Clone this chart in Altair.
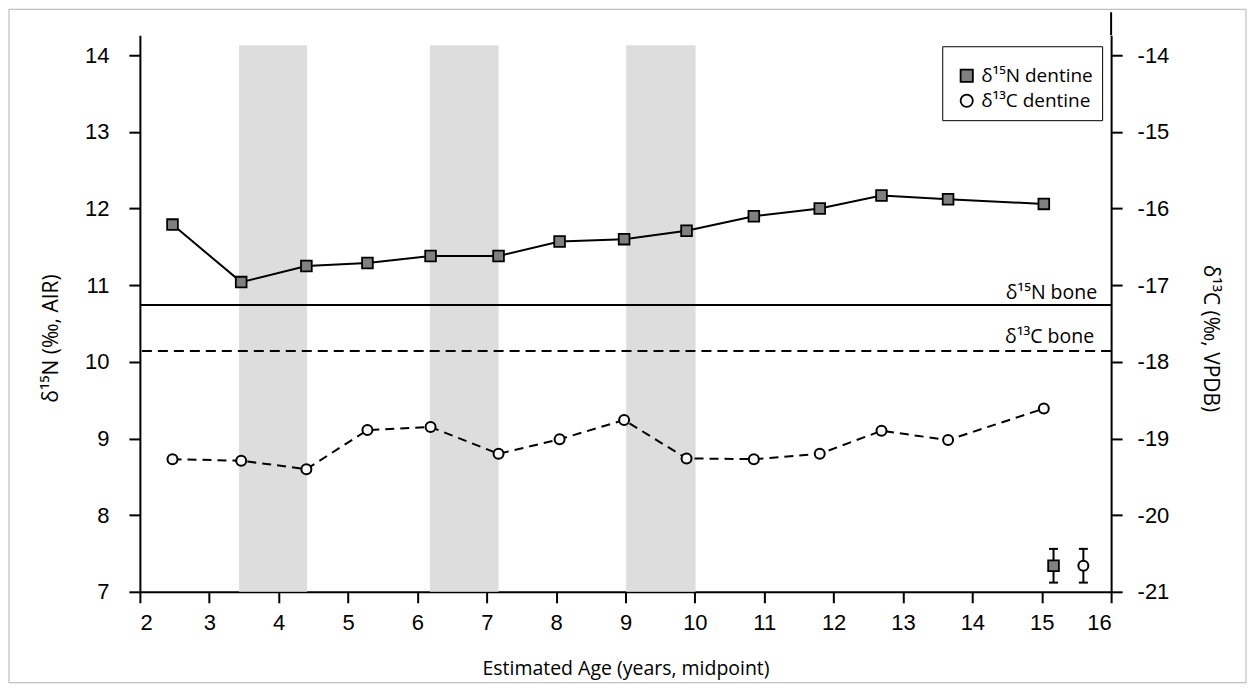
import altair as alt
import pandas as pd

# ---- data ----
ages = [2.47, 3.46, 4.40, 5.28, 6.19, 7.17, 8.05, 8.98, 9.88, 10.85, 11.80, 12.69, 13.65, 15.03]
n_dentine = [11.79, 11.04, 11.25, 11.29, 11.38, 11.38, 11.57, 11.60, 11.71, 11.90, 12.00, 12.17, 12.12, 12.06]
c_dentine = [-19.27, -19.29, -19.40, -18.89, -18.85, -19.20, -19.01, -18.76, -19.26, -19.27, -19.20, -18.90, -19.02, -18.61]
series_names = ["δ¹⁵N dentine", "δ¹³C dentine"]

band_start = [3.43, 6.18, 9.01]
band_end = [4.41, 7.17, 10.01]
band_top = 14.13

n_bone = 10.74
c_bone = -17.86
bone_labels = ["δ¹⁵N bone", "δ¹³C bone"]

err_x = [15.17, 15.60]
err_y = [7.34, -20.66]
err_sd = [0.22, 0.22]

x_ticks = list(range(2, 17))
n_ticks = list(range(7, 15))
c_ticks = list(range(-21, -13))

W, H = 972, 557
LABEL_FONT = "Liberation Sans"
TEXT_FONT = "Open Sans"

X_SCALE = alt.Scale(domain=[2, 16], nice=False, zero=False)
YN = alt.Scale(domain=[7, 14.26], nice=False, zero=False)
YC = alt.Scale(domain=[-21, -13.74], nice=False, zero=False)

axis_common = dict(domainColor="black", domainWidth=2, tickColor="black", tickWidth=2,
                   tickSize=11, labelFont=LABEL_FONT, labelFontSize=22, labelColor="black",
                   grid=False, titleFont=TEXT_FONT, titleFontWeight="normal", titleColor="black")

x_axis = alt.Axis(values=x_ticks, title="Estimated Age (years, midpoint)", labelPadding=10,
                  titleY=77, titleBaseline="middle", titleFontSize=19.5, **axis_common)
yn_axis = alt.Axis(values=n_ticks, orient="left", title="δ¹⁵N (‰, AIR)", labelPadding=20,
                   titleX=-88, titleY=303, titleBaseline="middle", titleAngle=-90,
                   titleFontSize=21, **axis_common)
yc_axis = alt.Axis(values=c_ticks, orient="right", title="δ¹³C (‰, VPDB)", labelPadding=15,
                   titleX=98, titleY=303, titleBaseline="middle", titleAngle=90,
                   titleFontSize=21, **axis_common)

shape_scale = alt.Scale(domain=series_names, range=["square", "circle"])
fill_scale = alt.Scale(domain=series_names, range=["#808080", "#f7f7f7"])
stroke_scale = alt.Scale(domain=series_names, range=["black", "black"])
legend = alt.Legend(title="\u00a0", titleFontSize=9, titlePadding=2, orient="none",
                    legendX=803, legendY=11, strokeColor="black",
                    fillColor="white", padding=9, rowPadding=4, symbolSize=150, symbolOffset=6,
                    symbolStrokeColor="black", symbolStrokeWidth=1.8, labelFont=TEXT_FONT,
                    labelFontSize=19, labelColor="black", labelOffset=5)

n_df = pd.DataFrame({"age": ages, "N": n_dentine, "series": series_names[0]})
c_df = pd.DataFrame({"age": ages, "C": c_dentine, "series": series_names[1]})
band_df = pd.DataFrame({"start": band_start, "end": band_end, "bottom": 7, "top": band_top})
nb_df = pd.DataFrame({"N": [n_bone], "x": [16], "label": [bone_labels[0]]})
cb_df = pd.DataFrame({"C": [c_bone], "x": [16], "label": [bone_labels[1]]})
ne_df = pd.DataFrame({"x": [err_x[0]], "N": [err_y[0]],
                      "lo": [err_y[0] - err_sd[0]], "hi": [err_y[0] + err_sd[0]]})
ce_df = pd.DataFrame({"x": [err_x[1]], "C": [err_y[1]],
                      "lo": [err_y[1] - err_sd[1]], "hi": [err_y[1] + err_sd[1]]})

# x is shared: every layer carries the same axis definition so the merged axis stays on
xq = lambda f: alt.X(f, type="quantitative", scale=X_SCALE, axis=x_axis)
# y is independent per layer: only the two line layers draw an axis
yn = lambda f: alt.Y(f, type="quantitative", scale=YN, axis=None)
yc = lambda f: alt.Y(f, type="quantitative", scale=YC, axis=None)

one = alt.Data(values=[{"a": 1}])

frame = alt.Chart(one).mark_rect(filled=False, stroke="#b0b0b0", strokeWidth=1).encode(
    x=alt.value(-131), x2=alt.value(1107), y=alt.value(-26), y2=alt.value(648))

bands = alt.Chart(band_df).mark_rect(color="#dddddd").encode(
    x=xq("start"), x2="end:Q", y=yn("bottom"), y2="top:Q")

n_line = alt.Chart(n_df).mark_line(color="black", strokeWidth=2).encode(
    x=xq("age"), y=alt.Y("N:Q", scale=YN, axis=yn_axis))
n_pts = alt.Chart(n_df).mark_point(filled=True, strokeWidth=1.8, size=115, opacity=1).encode(
    x=xq("age"), y=yn("N"),
    shape=alt.Shape("series:N", scale=shape_scale, legend=legend),
    fill=alt.Fill("series:N", scale=fill_scale, legend=legend),
    stroke=alt.Stroke("series:N", scale=stroke_scale, legend=legend))
n_bone_rule = alt.Chart(nb_df).mark_rule(color="black", strokeWidth=2).encode(y=yn("N"))
n_bone_text = alt.Chart(nb_df).mark_text(align="right", baseline="bottom", dx=-14, dy=-2,
                                         font=TEXT_FONT, fontSize=19.5, color="black").encode(
    x=xq("x"), y=yn("N"), text="label:N")
n_err = alt.Chart(ne_df).mark_rule(color="black", strokeWidth=2).encode(x=xq("x"), y=yn("lo"), y2="hi:Q")
n_cap_lo = alt.Chart(ne_df).mark_point(shape="M-1,0H1", size=81, stroke="black", strokeWidth=2, opacity=1).encode(x=xq("x"), y=yn("lo"))
n_cap_hi = alt.Chart(ne_df).mark_point(shape="M-1,0H1", size=81, stroke="black", strokeWidth=2, opacity=1).encode(x=xq("x"), y=yn("hi"))
n_err_pt = alt.Chart(ne_df).mark_point(shape="square", filled=True, fill="#808080", stroke="black",
                                       strokeWidth=1.8, size=115, opacity=1).encode(x=xq("x"), y=yn("N"))

c_line = alt.Chart(c_df).mark_line(color="black", strokeWidth=2, strokeDash=[9, 6]).encode(
    x=xq("age"), y=alt.Y("C:Q", scale=YC, axis=yc_axis))
c_pts = alt.Chart(c_df).mark_point(filled=True, strokeWidth=2, size=100, opacity=1).encode(
    x=xq("age"), y=yc("C"),
    shape=alt.Shape("series:N", scale=shape_scale, legend=None),
    fill=alt.Fill("series:N", scale=fill_scale, legend=None),
    stroke=alt.Stroke("series:N", scale=stroke_scale, legend=None))
c_bone_rule = alt.Chart(cb_df).mark_rule(color="black", strokeWidth=2, strokeDash=[10, 6]).encode(y=yc("C"))
c_bone_text = alt.Chart(cb_df).mark_text(align="right", baseline="bottom", dx=-17, dy=-4,
                                         font=TEXT_FONT, fontSize=19.5, color="black").encode(
    x=xq("x"), y=yc("C"), text="label:N")
c_err = alt.Chart(ce_df).mark_rule(color="black", strokeWidth=2).encode(x=xq("x"), y=yc("lo"), y2="hi:Q")
c_cap_lo = alt.Chart(ce_df).mark_point(shape="M-1,0H1", size=81, stroke="black", strokeWidth=2, opacity=1).encode(x=xq("x"), y=yc("lo"))
c_cap_hi = alt.Chart(ce_df).mark_point(shape="M-1,0H1", size=81, stroke="black", strokeWidth=2, opacity=1).encode(x=xq("x"), y=yc("hi"))
c_err_pt = alt.Chart(ce_df).mark_point(shape="circle", filled=True, fill="#f7f7f7", stroke="black",
                                       strokeWidth=2, size=100, opacity=1).encode(x=xq("x"), y=yc("C"))
right_ext = alt.Chart(one).mark_rule(color="black", strokeWidth=2).encode(
    x=alt.value(W), y=alt.value(-23), y2=alt.value(0))

chart = alt.layer(
    frame, bands, n_bone_rule, c_bone_rule, n_bone_text, c_bone_text, n_line, c_line,
    n_pts, c_pts, n_err, n_cap_lo, n_cap_hi, n_err_pt, c_err, c_cap_lo, c_cap_hi, c_err_pt, right_ext
).resolve_scale(y="independent").properties(
    width=W, height=H, autosize="none",
    padding={"left": 132, "top": 27, "right": 136, "bottom": 92},
).configure(
    locale={"number": {"decimal": ".", "thousands": ",", "grouping": [3],
                       "currency": ["$", ""], "minus": "-"}}
).configure_view(stroke="transparent")

chart.save("out.html", embed_options={"renderer": "svg", "actions": False})
